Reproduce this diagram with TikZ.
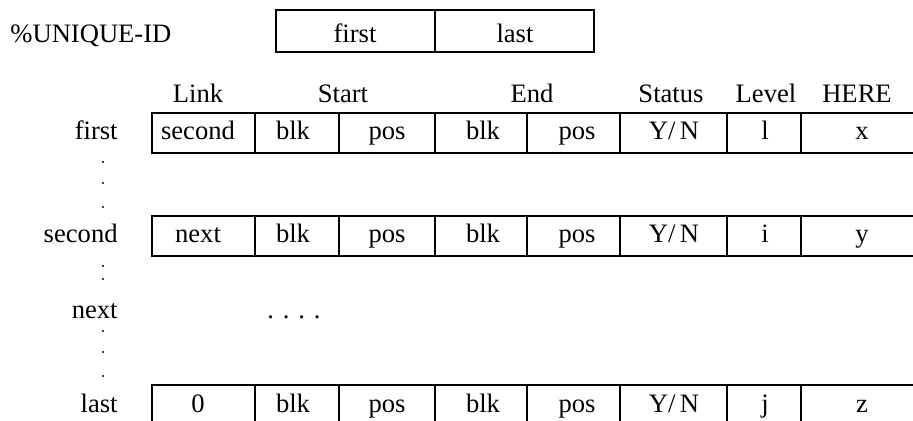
\documentclass[tikz,border=0pt]{standalone}
\usepackage{fontspec}
\setmainfont{Liberation Serif}
\usetikzlibrary{positioning}

\tikzset{
  rec/.style={line width=0.9pt, black},
  txt/.style={anchor=base, inner sep=0pt, font=\fontsize{13.3}{16}\selectfont},
  rowname/.style={txt, anchor=base east},
}

\begin{document}
\begin{tikzpicture}[x=0.5pt, y=-0.5pt]
        \useasboundingbox (0,0) rectangle (913,421);
        \clip (0,0) rectangle (913,421);

        % header record
        \node[txt, anchor=base west] (uid) at (10,43) {\%UNIQUE-ID};
        \draw[rec] (276,10) rectangle (594,52);
        \draw[rec] (435,10) -- (435,52);
        \node[txt] (hfirst) at (355,43) {first};
        \node[txt] (hlast) at (515,43) {last};

        % column titles
        \foreach \x/\t in {198/Link, 343/Start, 532/End, 671/Status, 766/Level, 857/HERE}
        \node[txt] (title-\t) at (\x,103) {\t};

        % records
        \foreach \top/\r/\a/\b/\c in {113/first/second/l/x, 216/second/next/i/y, 385/last/0/j/z} {
            \draw[rec] (152,\top) rectangle (916,\top+40);
            \foreach \x in {255,339,435,527,620,727,801}
            \draw[rec] (\x,\top) -- (\x,\top+40);
            \node[rowname] (lbl-\r) at (118,\top+27) {\r};
            \node[txt] (\r-link) at (198,\top+27) {\a};
            \node[txt] (\r-sblk) at (293,\top+27) {blk};
            \node[txt] (\r-spos) at (387,\top+27) {pos};
            \node[txt] (\r-eblk) at (483,\top+27) {blk};
            \node[txt] (\r-epos) at (577,\top+27) {pos};
            \node[txt] (\r-stat) at (674,\top+27) {Y/\,N};
            \node[txt] (\r-lev) at (765,\top+27) {\b};
            \node[txt] (\r-here) at (862,\top+27) {\c};
        }

        \node[rowname] (lbl-next) at (118,319) {next};
        \node[txt] (more) at (294,319) {.\,\,.\,\,.\,\,.};

        % vertical dots
        \foreach \y in {162,183,207,266,279,331,352,376}
        \fill (103,\y) circle (1.2);

\end{tikzpicture}
\end{document}
